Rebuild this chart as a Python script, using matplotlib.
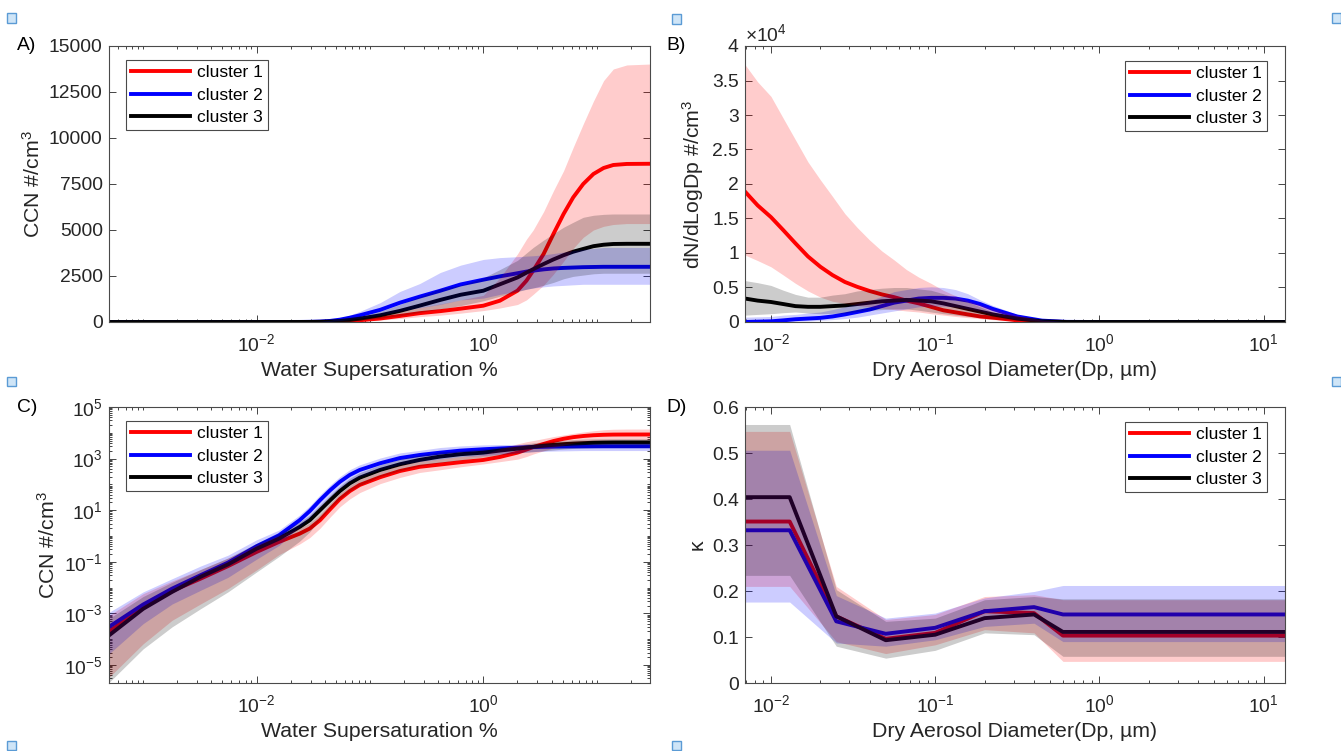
import matplotlib
matplotlib.use('Agg')
import matplotlib.pyplot as plt
import numpy as np
from matplotlib.ticker import (LogLocator, FixedLocator, FuncFormatter,
                               NullFormatter, LogFormatterMathtext)
from matplotlib.patches import Rectangle

plt.rcParams['font.family'] = ['Liberation Sans', 'DejaVu Sans']
plt.rcParams['mathtext.fontset'] = 'custom'
plt.rcParams['mathtext.rm'] = 'Liberation Sans'
plt.rcParams['mathtext.it'] = 'Liberation Sans:italic'
plt.rcParams['mathtext.bf'] = 'Liberation Sans:bold'

# ---------------- data ----------------
labels = ['cluster 1', 'cluster 2', 'cluster 3']
line_colors = ['#ff0000', '#0000ff', '#000000']
band_colors = ['#ff0000', '#0000ff', '#000000']

# Panels A and C: CCN spectra vs water supersaturation (%)
supersat = [0.0005, 0.001, 0.0018, 0.0032, 0.0056, 0.01, 0.0158, 0.024, 0.0295, 0.0363,
            0.0447, 0.0543, 0.0665, 0.0813, 0.123, 0.184, 0.275, 0.417, 0.63,
            1.0, 1.4, 2.0, 2.4, 2.75, 3.4, 4.15, 5.1, 6.2, 7.6, 9.35, 11.5, 14, 18.4, 29.5]

ccn1_mean = [2.0e-4, 1.7e-3, 7.4e-3, 0.022, 0.068, 0.24, 0.59, 1.23, 1.95, 4.1,
             11, 27, 55, 95, 190, 330, 480, 590, 725,
             886, 1158, 1701, 2245, 2788, 3696, 4783, 5870, 6772, 7500, 8044, 8370, 8533, 8590, 8600]
ccn1_hi = [8.3e-4, 5.8e-3, 0.018, 0.05, 0.14, 0.46, 1.05, 2.0, 3.2, 6.8,
           18, 45, 91, 158, 316, 550, 790, 980, 1200,
           1450, 2400, 3700, 4500, 5000, 6000, 7130, 8220, 9490, 10760, 12000, 13120, 13750, 13970, 14020]
ccn1_lo = [3.3e-6, 6.6e-5, 5.4e-4, 2.3e-3, 9.1e-3, 0.048, 0.19, 0.49, 0.87, 2.0,
           5.5, 13.5, 27.5, 48, 107, 186, 290, 370, 480,
           620, 760, 950, 1200, 1500, 2000, 2600, 3300, 4000, 4600, 5000, 5200, 5300, 5350, 5350]

ccn2_mean = [3.0e-4, 2.2e-3, 9.1e-3, 0.030, 0.093, 0.40, 1.07, 4.1, 9.3, 24.5,
             60, 126, 234, 363, 660, 1050, 1380, 1700, 2040,
             2300, 2480, 2650, 2740, 2790, 2860, 2910, 2940, 2960, 2980, 2990, 3000, 3000, 3000, 3000]
ccn2_hi = [1.1e-3, 6.8e-3, 0.022, 0.068, 0.18, 0.71, 1.7, 6.5, 14.8, 39,
           95, 200, 372, 575, 1050, 1660, 2090, 2690, 3090,
           3400, 3500, 3550, 3580, 3600, 3650, 3720, 3800, 3880, 3950, 4000, 4050, 4050, 4050, 4050]
ccn2_lo = [2.7e-5, 4e-4, 2.3e-3, 7.8e-3, 0.025, 0.126, 0.43, 2.3, 5.2, 13.8,
           34, 71, 132, 204, 372, 590, 776, 955, 1200,
           1300, 1500, 1680, 1780, 1850, 1910, 1960, 1990, 2020, 2050, 2050, 2050, 2050, 2050, 2050]

ccn3_mean = [1.4e-4, 1.5e-3, 6.8e-3, 0.026, 0.079, 0.32, 0.79, 2.24, 4.1, 10,
             24.5, 55, 110, 182, 363, 603, 890, 1200, 1480,
             1700, 2050, 2420, 2680, 2870, 3150, 3400, 3630, 3820, 3970, 4120, 4200, 4240, 4250, 4250]
ccn3_hi = [6.3e-4, 4.5e-3, 0.016, 0.05, 0.14, 0.52, 1.26, 3.5, 6.5, 16,
           39, 87, 174, 288, 575, 955, 1380, 1820, 2000,
           2400, 2850, 3350, 3750, 4050, 4450, 4800, 5150, 5420, 5690, 5800, 5850, 5870, 5870, 5870]
ccn3_lo = [2.1e-6, 4.2e-5, 3e-4, 1.5e-3, 6.8e-3, 0.04, 0.16, 0.63, 1.45, 4.5,
           12.3, 27.5, 55, 91, 204, 340, 525, 710, 890,
           1150, 1400, 1650, 1780, 1850, 2000, 2150, 2350, 2480, 2550, 2620, 2650, 2650, 2650, 2650]

# Panel B: number size distribution (units of 10^4 #/cm3) vs dry diameter (um)
dp_size = [0.00695, 0.0083, 0.01, 0.0119, 0.0141, 0.0168, 0.02, 0.0237, 0.0282, 0.0335,
           0.0398, 0.0473, 0.0562, 0.0668, 0.0794, 0.0944, 0.112, 0.133, 0.158, 0.188,
           0.224, 0.316, 0.447, 0.631, 1.0, 13.5]
dn1_mean = [1.89, 1.69, 1.52, 1.33, 1.14, 0.95, 0.80, 0.68, 0.58, 0.51, 0.45, 0.40, 0.36,
            0.31, 0.27, 0.22, 0.17, 0.14, 0.11, 0.08, 0.063, 0.024, 0.005, 0, 0, 0]
dn1_hi = [3.73, 3.48, 3.27, 2.95, 2.64, 2.32, 2.06, 1.82, 1.57, 1.37, 1.19, 1.03, 0.90,
          0.76, 0.65, 0.56, 0.46, 0.38, 0.31, 0.25, 0.19, 0.10, 0.025, 0, 0, 0]
dn1_lo = [0.97, 0.89, 0.80, 0.68, 0.56, 0.45, 0.36, 0.30, 0.27, 0.24, 0.22, 0.20, 0.18,
          0.16, 0.145, 0.12, 0.10, 0.08, 0.063, 0.05, 0.034, 0.015, 0.002, 0, 0, 0]

dn2_mean = [0, 0.005, 0.01, 0.024, 0.04, 0.05, 0.06, 0.08, 0.11, 0.145, 0.18, 0.23, 0.28,
            0.31, 0.34, 0.35, 0.35, 0.34, 0.31, 0.26, 0.19, 0.08, 0.02, 0.002, 0, 0]
dn2_hi = [0.07, 0.075, 0.08, 0.10, 0.11, 0.13, 0.145, 0.18, 0.22, 0.27, 0.31, 0.37, 0.44,
          0.47, 0.50, 0.51, 0.50, 0.47, 0.41, 0.32, 0.24, 0.11, 0.035, 0.004, 0, 0]
dn2_lo = [0, 0, 0, 0.005, 0.01, 0.015, 0.024, 0.034, 0.05, 0.07, 0.10, 0.13, 0.16,
          0.19, 0.22, 0.23, 0.23, 0.22, 0.19, 0.16, 0.11, 0.034, 0.008, 0, 0, 0]

dn3_mean = [0.34, 0.31, 0.29, 0.26, 0.23, 0.22, 0.22, 0.23, 0.24, 0.26, 0.28, 0.30, 0.31,
            0.32, 0.31, 0.30, 0.27, 0.23, 0.19, 0.15, 0.11, 0.05, 0.01, 0, 0, 0]
dn3_hi = [0.60, 0.57, 0.53, 0.46, 0.40, 0.36, 0.36, 0.39, 0.41, 0.45, 0.47, 0.49, 0.50,
          0.50, 0.48, 0.46, 0.41, 0.35, 0.29, 0.22, 0.145, 0.07, 0.018, 0, 0, 0]
dn3_lo = [0.10, 0.11, 0.12, 0.135, 0.145, 0.13, 0.12, 0.125, 0.13, 0.15, 0.17, 0.18, 0.19,
          0.19, 0.17, 0.145, 0.12, 0.10, 0.08, 0.063, 0.044, 0.024, 0.004, 0, 0, 0]

# Panel D: hygroscopicity kappa vs dry diameter (um)
dp_kappa = [0.00695, 0.013, 0.025, 0.05, 0.1, 0.2, 0.4, 0.6, 13.5]
k1_mean = [0.351, 0.351, 0.145, 0.096, 0.109, 0.156, 0.152, 0.103, 0.103]
k1_hi = [0.547, 0.547, 0.210, 0.138, 0.149, 0.188, 0.192, 0.181, 0.181]
k1_lo = [0.210, 0.210, 0.090, 0.064, 0.083, 0.116, 0.109, 0.047, 0.047]

k2_mean = [0.332, 0.332, 0.134, 0.107, 0.120, 0.156, 0.165, 0.149, 0.149]
k2_hi = [0.506, 0.506, 0.190, 0.141, 0.152, 0.185, 0.199, 0.212, 0.212]
k2_lo = [0.176, 0.176, 0.087, 0.080, 0.094, 0.123, 0.130, 0.090, 0.090]

k3_mean = [0.404, 0.404, 0.145, 0.093, 0.105, 0.141, 0.149, 0.111, 0.111]
k3_hi = [0.562, 0.562, 0.203, 0.134, 0.141, 0.181, 0.188, 0.183, 0.183]
k3_lo = [0.234, 0.234, 0.080, 0.054, 0.071, 0.109, 0.105, 0.058, 0.058]

# ---------------- figure ----------------
W, H = 1341, 751
fig = plt.figure(figsize=(W / 100, H / 100), dpi=100)

def rect(l, t, r, b):
    return [l / W, 1 - b / H, (r - l) / W, (b - t) / H]

axA = fig.add_axes(rect(109, 46, 650, 322))
axB = fig.add_axes(rect(745, 46, 1285, 322))
axC = fig.add_axes(rect(109, 407, 650, 683))
axD = fig.add_axes(rect(745, 407, 1285, 683))

AX_COL = '#262626'
TICK_FS = 13.9
LABEL_FS = 15.3
LEG_FS = 12.5

plt.rcParams.update({'legend.fontsize': LEG_FS, 'legend.handlelength': 3.4,
                     'legend.handletextpad': 0.4, 'legend.labelspacing': 0.42,
                     'legend.borderpad': 0.3, 'legend.fancybox': False,
                     'legend.framealpha': 1})

def draw(ax, x, means, his, los):
    for m, h, l, c, bc, lab in zip(means, his, los, line_colors, band_colors, labels):
        ax.fill_between(x, l, h, color=bc, alpha=0.2, linewidth=0, zorder=3)
        ax.plot(x, m, color=c, lw=2.8, label=lab, zorder=2)

def style(ax):
    for s in ax.spines.values():
        s.set_color('#4a4a4a')
        s.set_linewidth(0.8)
        s.set_zorder(5)
    ax.tick_params(which='both', direction='in', top=True, right=True,
                   colors=AX_COL, labelsize=TICK_FS, width=0.6)
    ax.tick_params(which='major', length=5)
    ax.tick_params(which='minor', length=2.5)
    ax.tick_params(axis='x', which='both', pad=8)
    ax.tick_params(axis='y', which='both', pad=4.5)

def legend(ax, upper_left):
    if upper_left:
        leg = ax.legend(loc='upper left', bbox_to_anchor=(17 / 541, 1 - 14 / 276),
                        borderaxespad=0)
    else:
        leg = ax.legend(loc='upper right', bbox_to_anchor=(1 - 18 / 540, 1 - 15 / 276),
                        borderaxespad=0)
    leg.set_zorder(10)
    fr = leg.get_frame()
    fr.set_edgecolor('#4a4a4a')
    fr.set_linewidth(0.8)
    return leg

def log_x_two_decades(ax):
    ax.set_xscale('log')
    ax.xaxis.set_major_locator(FixedLocator([1e-2, 1e0]))
    ax.xaxis.set_major_formatter(LogFormatterMathtext())
    ax.xaxis.set_minor_locator(LogLocator(base=10, subs=np.arange(1, 10), numticks=100))
    ax.xaxis.set_minor_formatter(NullFormatter())

def log_x_decades(ax):
    ax.set_xscale('log')
    ax.xaxis.set_major_locator(FixedLocator([1e-2, 1e-1, 1e0, 1e1]))
    ax.xaxis.set_major_formatter(LogFormatterMathtext())
    ax.xaxis.set_minor_locator(LogLocator(base=10, subs=np.arange(2, 10), numticks=100))
    ax.xaxis.set_minor_formatter(NullFormatter())

gfmt = FuncFormatter(lambda v, p: '%g' % round(v, 6))

# Panel A
draw(axA, supersat, [ccn1_mean, ccn2_mean, ccn3_mean],
     [ccn1_hi, ccn2_hi, ccn3_hi], [ccn1_lo, ccn2_lo, ccn3_lo])
log_x_two_decades(axA)
axA.set_xlim(5e-4, 29.5)
axA.set_ylim(0, 15000)
axA.yaxis.set_major_locator(FixedLocator(np.arange(0, 15001, 2500)))
axA.yaxis.set_major_formatter(FuncFormatter(lambda v, p: '%d' % v))
style(axA)
axA.set_xlabel('Water Supersaturation %', fontsize=LABEL_FS, color=AX_COL)
axA.set_ylabel('CCN #/cm$^{3}$', fontsize=LABEL_FS, color=AX_COL)
legend(axA, True)

# Panel B
draw(axB, dp_size, [dn1_mean, dn2_mean, dn3_mean],
     [dn1_hi, dn2_hi, dn3_hi], [dn1_lo, dn2_lo, dn3_lo])
log_x_decades(axB)
axB.set_xlim(0.00695, 13.5)
axB.set_ylim(0, 4)
axB.yaxis.set_major_locator(FixedLocator(np.arange(0, 4.01, 0.5)))
axB.yaxis.set_major_formatter(gfmt)
style(axB)
axB.text(0.0, 1.004, '×10$^{4}$', transform=axB.transAxes, ha='left', va='bottom',
         fontsize=TICK_FS, color=AX_COL)
axB.set_xlabel('Dry Aerosol Diameter(Dp, µm)', fontsize=LABEL_FS, color=AX_COL)
axB.set_ylabel('dN/dLogDp #/cm$^{3}$', fontsize=LABEL_FS, color=AX_COL)
legend(axB, False)

# Panel C
draw(axC, supersat, [ccn1_mean, ccn2_mean, ccn3_mean],
     [ccn1_hi, ccn2_hi, ccn3_hi], [ccn1_lo, ccn2_lo, ccn3_lo])
log_x_two_decades(axC)
axC.set_xlim(5e-4, 29.5)
axC.set_yscale('log')
axC.set_ylim(2e-6, 1e5)
axC.yaxis.set_major_locator(FixedLocator([1e-5, 1e-3, 1e-1, 1e1, 1e3, 1e5]))
axC.yaxis.set_major_formatter(LogFormatterMathtext())
axC.yaxis.set_minor_locator(LogLocator(base=10, subs=np.arange(1, 10), numticks=100))
axC.yaxis.set_minor_formatter(NullFormatter())
style(axC)
axC.set_xlabel('Water Supersaturation %', fontsize=LABEL_FS, color=AX_COL)
axC.set_ylabel('CCN #/cm$^{3}$', fontsize=LABEL_FS, color=AX_COL)
legend(axC, True)

# Panel D
draw(axD, dp_kappa, [k1_mean, k2_mean, k3_mean],
     [k1_hi, k2_hi, k3_hi], [k1_lo, k2_lo, k3_lo])
log_x_decades(axD)
axD.set_xlim(0.00695, 13.5)
axD.set_ylim(0, 0.6)
axD.yaxis.set_major_locator(FixedLocator(np.arange(0, 0.61, 0.1)))
axD.yaxis.set_major_formatter(gfmt)
style(axD)
axD.set_xlabel('Dry Aerosol Diameter(Dp, µm)', fontsize=LABEL_FS, color=AX_COL)
axD.set_ylabel('κ', fontsize=LABEL_FS, color=AX_COL)
legend(axD, False)

# panel letters
for txt, x, y in [('A)', 17, 45), ('B)', 666, 45), ('C)', 17, 407), ('D)', 666, 407)]:
    fig.text(x / W, 1 - y / H, txt, fontsize=TICK_FS, ha='left', va='center', color='#000000')

# small layout anchor squares of the source screenshot
for cx, cy in [(11, 18), (676, 19), (1336, 18), (11, 381), (1336, 381), (11, 745), (676, 745)]:
    s = 9
    fig.patches.append(Rectangle(((cx - s / 2) / W, 1 - (cy + s / 2) / H), s / W, s / H,
                                 transform=fig.transFigure, facecolor='#cfe5f7',
                                 edgecolor='#5b9bd5', linewidth=1.0))

fig.savefig('out.png', dpi=100)
